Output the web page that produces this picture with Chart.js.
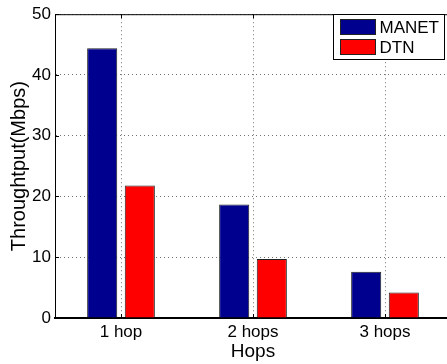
<!DOCTYPE html>
<html>
<head>
<meta charset="utf-8">
<script src="https://cdn.jsdelivr.net/npm/chart.js@4/dist/chart.umd.min.js"></script>
<style>
  html, body { margin: 0; padding: 0; background: #fff; overflow: hidden; }
  #wrap { width: 452px; height: 364px; }
</style>
</head>
<body>
<div id="wrap"><canvas id="hopsChart" width="452" height="364"></canvas></div>
<script>
// data
const categories = ['1 hop', '2 hops', '3 hops'];
const manetValues = [44.4, 18.7, 7.6];
const dtnValues = [21.8, 9.7, 4.2];
const yTicks = [0, 10, 20, 30, 40, 50];

const FONT = "'Liberation Sans', Arial, sans-serif";

// MATLAB style frame: top border, inward ticks, legend box
const matlabFrame = {
    id: 'matlabFrame',
    afterDraw(chart) {
        const { ctx, chartArea: a, scales } = chart;
        ctx.save();
        ctx.strokeStyle = '#000';
        ctx.lineWidth = 1;
        ctx.beginPath();
        ctx.moveTo(a.left, a.top + 0.5);
        ctx.lineTo(a.right, a.top + 0.5);
        ctx.stroke();

        // inward ticks
        yTicks.forEach(v => {
            const y = Math.round(scales.y.getPixelForValue(v)) + 0.5;
            ctx.beginPath();
            ctx.moveTo(a.left, y);
            ctx.lineTo(a.left + 4, y);
            ctx.stroke();
        });
        categories.forEach((c, i) => {
            const x = Math.round(scales.x.getPixelForValue(i)) + 0.5;
            ctx.beginPath();
            ctx.moveTo(x, a.bottom);
            ctx.lineTo(x, a.bottom - 4);
            ctx.moveTo(x, a.top);
            ctx.lineTo(x, a.top + 4);
            ctx.stroke();
        });

        // legend
        const bx = 333.5, by = 14.5, bw = 111, bh = 45;
        ctx.fillStyle = '#fff';
        ctx.fillRect(bx, by, bw, bh);
        ctx.strokeRect(bx, by, bw, bh);
        ctx.font = '17px ' + FONT;
        ctx.textBaseline = 'middle';
        chart.data.datasets.forEach((ds, i) => {
            const ry = by + 5 + i * 20;
            ctx.fillStyle = ds.backgroundColor;
            ctx.fillRect(bx + 7, ry, 35, 15);
            ctx.strokeStyle = '#222';
            ctx.strokeRect(bx + 7, ry, 35, 15);
            ctx.fillStyle = '#000';
            ctx.fillText(ds.label, bx + 46, ry + 8.5);
        });
        ctx.restore();
    }
};

new Chart(document.getElementById('hopsChart'), {
    type: 'bar',
    data: {
        labels: categories,
        datasets: [
            {
                label: 'MANET',
                data: manetValues,
                backgroundColor: '#00008f',
                borderColor: '#222',
                borderWidth: 1,
                categoryPercentage: 0.57,
                barPercentage: 0.8
            },
            {
                label: 'DTN',
                data: dtnValues,
                backgroundColor: '#ff0000',
                borderColor: '#222',
                borderWidth: 1,
                categoryPercentage: 0.57,
                barPercentage: 0.8
            }
        ]
    },
    options: {
        responsive: false,
        animation: false,
        layout: { padding: { top: 8, right: 1, left: 0, bottom: 0 } },
        plugins: {
            legend: { display: false },
            tooltip: { enabled: false }
        },
        scales: {
            x: {
                grid: {
                    offset: false,
                    color: 'rgba(0,0,0,0.55)',
                    drawTicks: false
                },
                border: { color: '#000', width: 2, dash: [1, 3] },
                ticks: {
                    color: '#000',
                    font: { family: FONT, size: 17 },
                    padding: 4
                },
                title: {
                    display: true,
                    text: 'Hops',
                    color: '#000',
                    font: { family: FONT, size: 19 },
                    padding: { top: 0, bottom: 1 }
                },
                afterFit(scale) { scale.height = 46; }
            },
            y: {
                min: 0,
                max: 50,
                afterBuildTicks(scale) {
                    scale.ticks = yTicks.map(v => ({ value: v }));
                },
                grid: {
                    color: 'rgba(0,0,0,0.55)',
                    drawTicks: false
                },
                border: { color: '#000', width: 1, dash: [1, 3] },
                ticks: {
                    color: '#000',
                    font: { family: FONT, size: 17 },
                    padding: 4
                },
                title: {
                    display: true,
                    text: 'Throughtput(Mbps)',
                    color: '#000',
                    font: { family: FONT, size: 20 },
                    padding: { top: 7, bottom: 0 }
                },
                afterFit(scale) { scale.width = 55; }
            }
        }
    },
    plugins: [matlabFrame]
});
</script>
</body>
</html>
